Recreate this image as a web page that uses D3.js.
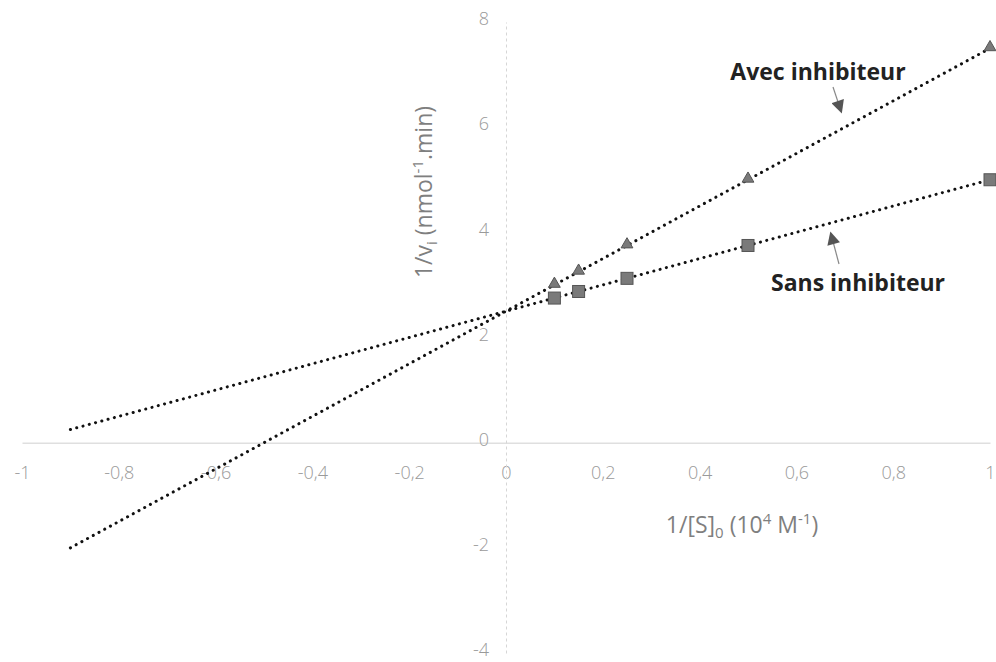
<!DOCTYPE html>
<html>
<head>
<meta charset="utf-8">
<script src="https://cdn.jsdelivr.net/npm/d3@7"></script>
<style>
  body { margin: 0; background: #fff; }
  .tick text { font-family: "Open Sans", sans-serif; font-weight: 300; fill: #9a9a9a; }
  .axisTitle { font-family: "Open Sans", sans-serif; fill: #7f7f7f; }
  .note { font-family: "Open Sans", sans-serif; font-weight: bold; fill: #222; }
</style>
</head>
<body>
<div id="chart"></div>
<script>
var svgWidth = 996;
var svgHeight = 662;

// data (1/[S]0 in 10^4 M-1, 1/vi)
var invS = [0.1, 0.15, 0.25, 0.5, 1];
var sansInhib = [2.75, 2.875, 3.125, 3.75, 5.0];
var avecInhib = [3.0, 3.25, 3.75, 5.0, 7.5];
var trendFrom = -0.9;
var trendTo = 1;

var xTicks = [-1, -0.8, -0.6, -0.4, -0.2, 0, 0.2, 0.4, 0.6, 0.8, 1];
var yTicks = [-4, -2, 0, 2, 4, 6, 8];

var svg = d3.select("#chart")
    .append("svg")
    .attr("width", svgWidth)
    .attr("height", svgHeight);

var xScale = d3.scaleLinear().domain([-1, 1]).range([22, 990]);
var yScale = d3.scaleLinear().domain([-4, 8]).range([653, 22]);

var fmt = function(d) { return String(d).replace(".", ","); };

// horizontal axis through y = 0
var xAxis = d3.axisBottom(xScale)
    .tickValues(xTicks)
    .tickFormat(fmt)
    .tickSize(0)
    .tickPadding(24);

var gx = svg.append("g")
    .attr("transform", `translate(0, ${yScale(0)})`)
    .call(xAxis);
gx.select(".domain").attr("stroke", "#cfcfcf").attr("stroke-width", 1);
gx.selectAll(".tick text").style("font-size", "18px");

// vertical axis through x = 0
var yAxis = d3.axisLeft(yScale)
    .tickValues(yTicks)
    .tickFormat(fmt)
    .tickSize(0)
    .tickPadding(17);

var gy = svg.append("g")
    .attr("transform", `translate(${xScale(0)}, 0)`)
    .call(yAxis);
gy.select(".domain")
    .attr("stroke", "#d6d6d6")
    .attr("stroke-dasharray", "3,3");
gy.selectAll(".tick text")
    .style("font-size", "18px")
    .attr("dy", "0.15em");

// linear trend lines (least squares over the points, extended back)
function fit(xs, ys) {
    var mx = d3.mean(xs), my = d3.mean(ys);
    var num = d3.sum(xs, (x, i) => (x - mx) * (ys[i] - my));
    var den = d3.sum(xs, x => (x - mx) * (x - mx));
    var b = num / den;
    return { a: my - b * mx, b: b };
}

var line = d3.line()
    .x(d => xScale(d[0]))
    .y(d => yScale(d[1]));

[sansInhib, avecInhib].forEach(function(series) {
    var f = fit(invS, series);
    svg.append("path")
        .datum([[trendFrom, f.a + f.b * trendFrom], [trendTo, f.a + f.b * trendTo]])
        .attr("d", line)
        .attr("fill", "none")
        .attr("stroke", "#111")
        .attr("stroke-width", 3)
        .attr("stroke-linecap", "round")
        .attr("stroke-dasharray", "0.1,6.4");
});

// markers
svg.selectAll(".sq")
    .data(invS)
    .enter()
    .append("rect")
    .attr("x", (d) => xScale(d) - 6)
    .attr("y", (d, i) => yScale(sansInhib[i]) - 6)
    .attr("width", 12)
    .attr("height", 12)
    .attr("fill", "#7a7a7a")
    .attr("stroke", "#555")
    .attr("stroke-width", 1);

var tri = d3.symbol().type(d3.symbolTriangle).size(60);
svg.selectAll(".tri")
    .data(invS)
    .enter()
    .append("path")
    .attr("d", tri)
    .attr("transform", (d, i) => `translate(${xScale(d)}, ${yScale(avecInhib[i]) - 1})`)
    .attr("fill", "#7a7a7a")
    .attr("stroke", "#555")
    .attr("stroke-width", 1);

// axis titles
var yTitle = svg.append("text")
    .attr("class", "axisTitle")
    .attr("transform", "translate(432, 192) rotate(-90)")
    .attr("text-anchor", "middle")
    .style("font-size", "23px");
yTitle.append("tspan").text("1/v");
yTitle.append("tspan").attr("dy", 5).style("font-size", "15px").text("i");
yTitle.append("tspan").attr("dy", -5).text(" (nmol");
yTitle.append("tspan").attr("dy", -9).style("font-size", "15px").text("-1");
yTitle.append("tspan").attr("dy", 9).text(".min)");

var xTitle = svg.append("text")
    .attr("class", "axisTitle")
    .attr("x", 742)
    .attr("y", 533)
    .attr("text-anchor", "middle")
    .style("font-size", "23px");
xTitle.append("tspan").text("1/[S]");
xTitle.append("tspan").attr("dy", 5).style("font-size", "15px").text("0");
xTitle.append("tspan").attr("dy", -5).text(" (10");
xTitle.append("tspan").attr("dy", -9).style("font-size", "15px").text("4");
xTitle.append("tspan").attr("dy", 9).text(" M");
xTitle.append("tspan").attr("dy", -9).style("font-size", "15px").text("-1");
xTitle.append("tspan").attr("dy", 9).text(")");

// annotations with arrows
svg.append("defs").append("marker")
    .attr("id", "head")
    .attr("viewBox", "0 0 10 10")
    .attr("refX", 8)
    .attr("refY", 5)
    .attr("markerWidth", 14)
    .attr("markerHeight", 13)
    .attr("markerUnits", "userSpaceOnUse")
    .attr("orient", "auto")
    .append("path")
    .attr("d", "M0,0 L10,5 L0,10 Z")
    .attr("fill", "#555");

svg.append("text")
    .attr("class", "note")
    .attr("x", 818)
    .attr("y", 80)
    .attr("text-anchor", "middle")
    .style("font-size", "23px")
    .text("Avec inhibiteur");

svg.append("line")
    .attr("x1", 833).attr("y1", 87)
    .attr("x2", 841).attr("y2", 111)
    .attr("stroke", "#888")
    .attr("stroke-width", 1.2)
    .attr("marker-end", "url(#head)");

svg.append("text")
    .attr("class", "note")
    .attr("x", 858)
    .attr("y", 291)
    .attr("text-anchor", "middle")
    .style("font-size", "23px")
    .text("Sans inhibiteur");

svg.append("line")
    .attr("x1", 839).attr("y1", 264)
    .attr("x2", 831).attr("y2", 234)
    .attr("stroke", "#888")
    .attr("stroke-width", 1.2)
    .attr("marker-end", "url(#head)");
</script>
</body>
</html>
